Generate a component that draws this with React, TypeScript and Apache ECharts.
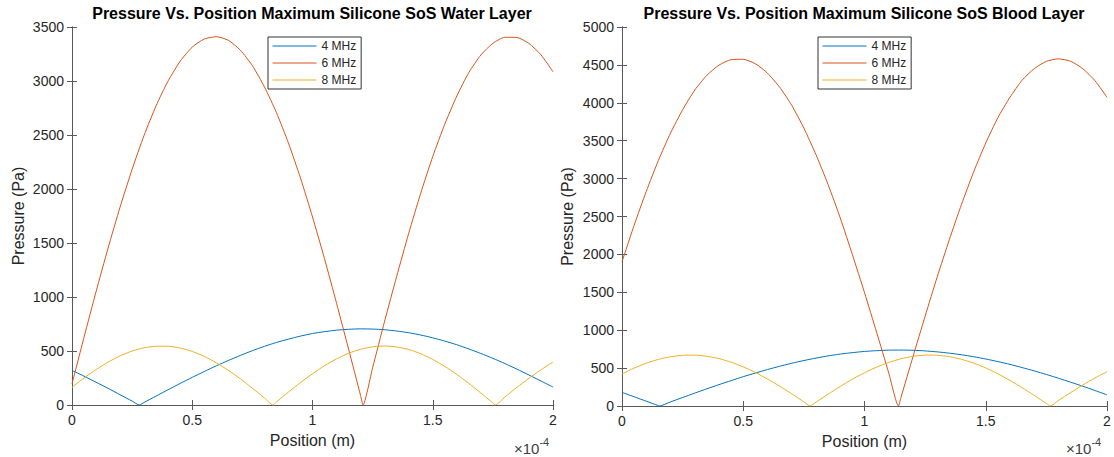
import React, { useEffect, useRef } from 'react';
import * as echarts from 'echarts';

// Position in units of 1e-4 m
const positions = [
  0, 0.05, 0.1, 0.15, 0.2, 0.25, 0.3, 0.35, 0.4, 0.45, 0.5, 0.55, 0.6, 0.65, 0.7, 0.75, 0.8, 0.85, 0.9, 0.95,
  1.0, 1.05, 1.1, 1.15, 1.2, 1.25, 1.3, 1.35, 1.4, 1.45, 1.5, 1.55, 1.6, 1.65, 1.7, 1.75, 1.8, 1.85, 1.9, 1.95, 2.0,
];

const seriesNames = ['4 MHz', '6 MHz', '8 MHz'];

// Water layer (Pa)
const water4 = [321, 267, 211, 154, 95, 36, 24, 83, 142, 200, 256, 310, 363, 412, 459, 503, 543, 579, 610, 638, 662, 679, 693, 701, 705, 703, 697, 685, 669, 648, 622, 592, 558, 519, 477, 432, 384, 332, 278, 222, 166];
const water6 = [196, 627, 1049, 1453, 1833, 2183, 2498, 2773, 3002, 3184, 3314, 3389, 3410, 3377, 3286, 3142, 2946, 2708, 2425, 2102, 1741, 1354, 942, 518, 87, 345, 777, 1191, 1590, 1961, 2301, 2600, 2861, 3078, 3241, 3349, 3405, 3403, 3348, 3242, 3086];
const water8 = [164, 250, 328, 397, 455, 500, 530, 544, 544, 527, 496, 450, 391, 321, 242, 156, 65, 28, 120, 208, 289, 364, 427, 479, 516, 539, 546, 537, 514, 475, 422, 358, 283, 200, 111, 19, 74, 163, 247, 326, 397];
const waterZeros4 = [0.28];
const waterZeros6 = [1.21];
const waterZeros8 = [0.835, 1.76];

// Blood layer (Pa)
const blood4 = [179, 122, 63, 5, 54, 112, 170, 227, 282, 335, 387, 435, 481, 524, 564, 600, 632, 661, 685, 704, 720, 730, 737, 738, 735, 727, 714, 697, 676, 650, 620, 586, 549, 507, 463, 416, 366, 314, 261, 205, 147];
const blood6 = [1903, 2384, 2831, 3239, 3600, 3908, 4168, 4363, 4497, 4569, 4574, 4515, 4391, 4207, 3966, 3666, 3315, 2920, 2481, 1998, 1496, 973, 435, 109, 652, 1185, 1705, 2196, 2660, 3088, 3470, 3804, 4074, 4298, 4451, 4547, 4580, 4548, 4450, 4293, 4072];
const blood8 = [422, 500, 564, 615, 650, 669, 671, 656, 625, 578, 516, 442, 356, 262, 161, 55, 51, 156, 258, 353, 438, 513, 575, 623, 655, 671, 669, 651, 616, 566, 502, 425, 337, 242, 140, 34, 73, 177, 277, 369, 453];
const bloodZeros4 = [0.154];
const bloodZeros6 = [1.14];
const bloodZeros8 = [0.776, 1.766];

const titles = [
  'Pressure Vs. Position Maximum Silicone SoS Water Layer',
  'Pressure Vs. Position Maximum Silicone SoS Blood Layer',
];
const xMin = 0;
const xMax = 2;
const xStep = 0.5;
const yMaxWater = 3500;
const yMaxBlood = 5000;
const yStep = 500;

const colors = ['#0072BD', '#D95319', '#EDB120'];
const FONT = "'Liberation Sans', Arial, Helvetica, sans-serif";
const AX = '#262626';
const AXLINE = '#595959';

function toPairs(xs: number[], ys: number[], zeros: number[]) {
  const pts = xs.map((x, i) => [x, ys[i]]);
  zeros.forEach((z) => pts.push([z, 0]));
  pts.sort((a, b) => a[0] - b[0]);
  return pts;
}

const plainNum = (v: number) => String(v);

function xAxes(gridIndex: number) {
  return [
    {
      gridIndex,
      type: 'value',
      position: 'bottom',
      min: xMin,
      max: xMax,
      interval: xStep,
      name: 'Position (m)',
      nameLocation: 'middle',
      nameGap: 27,
      nameTextStyle: { fontFamily: FONT, fontSize: 16, color: AX },
      axisLine: { show: true, lineStyle: { color: AXLINE, width: 1 } },
      axisTick: { show: true, inside: true, length: 5, lineStyle: { color: AXLINE } },
      axisLabel: { fontFamily: FONT, fontSize: 14, color: AX, margin: 8, formatter: plainNum },
      splitLine: { show: false },
    },
    {
      gridIndex,
      type: 'value',
      position: 'top',
      min: xMin,
      max: xMax,
      interval: xStep,
      axisLine: { show: true, lineStyle: { color: AXLINE, width: 1 } },
      axisTick: { show: true, inside: true, length: 5, lineStyle: { color: AXLINE } },
      axisLabel: { show: false },
      splitLine: { show: false },
    },
  ];
}

function yAxes(gridIndex: number, yMax: number, gap: number) {
  return [
    {
      gridIndex,
      type: 'value',
      position: 'left',
      min: 0,
      max: yMax,
      interval: yStep,
      name: 'Pressure (Pa)',
      nameLocation: 'middle',
      nameGap: gap,
      nameTextStyle: { fontFamily: FONT, fontSize: 16, color: AX },
      axisLine: { show: true, lineStyle: { color: AXLINE, width: 1 } },
      axisTick: { show: true, inside: true, length: 5, lineStyle: { color: AXLINE } },
      axisLabel: { fontFamily: FONT, fontSize: 14, color: AX, margin: 8, formatter: plainNum },
      splitLine: { show: false },
    },
    {
      gridIndex,
      type: 'value',
      position: 'right',
      min: 0,
      max: yMax,
      interval: yStep,
      axisLine: { show: true, lineStyle: { color: AXLINE, width: 1 } },
      axisTick: { show: true, inside: true, length: 5, lineStyle: { color: AXLINE } },
      axisLabel: { show: false },
      splitLine: { show: false },
    },
  ];
}

function lineSeries(name: string, data: number[][], axisBase: number, color: string) {
  return {
    type: 'line',
    name,
    data,
    xAxisIndex: axisBase,
    yAxisIndex: axisBase,
    symbol: 'none',
    smooth: 0.2,
    lineStyle: { color, width: 1 },
    itemStyle: { color },
  };
}

function legendAt(left: number, top: number) {
  return {
    data: seriesNames,
    orient: 'vertical',
    left,
    top,
    itemWidth: 44,
    itemHeight: 12,
    itemGap: 5,
    padding: [3, 5, 3, 4],
    borderColor: '#333',
    borderWidth: 1,
    backgroundColor: '#fff',
    selectedMode: false,
    itemStyle: { opacity: 0 },
    lineStyle: { width: 1 },
    textStyle: { fontFamily: FONT, fontSize: 12, color: AX },
  };
}

function exponentText(x: number, y: number) {
  return {
    type: 'text',
    x,
    y,
    style: {
      text: '{a|×10}{b|-4}',
      rich: {
        a: { fontFamily: FONT, fontSize: 15, fill: '#404040', verticalAlign: 'bottom' },
        b: { fontFamily: FONT, fontSize: 11, fill: '#404040', verticalAlign: 'top', padding: [0, 0, 9, 0] },
      },
    },
  };
}

export default function App() {
  const ref = useRef<HTMLDivElement>(null);
  useEffect(() => {
    if (!ref.current) return;
    const chart = echarts.init(ref.current, undefined, { renderer: 'svg' });
    const waterData = [
      toPairs(positions, water4, waterZeros4),
      toPairs(positions, water6, waterZeros6),
      toPairs(positions, water8, waterZeros8),
    ];
    const bloodData = [
      toPairs(positions, blood4, bloodZeros4),
      toPairs(positions, blood6, bloodZeros6),
      toPairs(positions, blood8, bloodZeros8),
    ];
    const option: any = {
      animation: false,
      backgroundColor: '#fff',
      grid: [
        { left: 72, right: 561, top: 27, bottom: 52, containLabel: false },
        { left: 622, right: 7, top: 27, bottom: 51, containLabel: false },
      ],
      xAxis: [...xAxes(0), ...xAxes(1)],
      yAxis: [...yAxes(0, yMaxWater, 46), ...yAxes(1, yMaxBlood, 47)],
      legend: [legendAt(268, 37), legendAt(818, 37)],
      series: [
        ...seriesNames.map((n, i) => lineSeries(n, waterData[i], 0, colors[i])),
        ...seriesNames.map((n, i) => lineSeries(n, bloodData[i], 2, colors[i])),
      ],
      graphic: [
        {
          type: 'text',
          x: 312,
          y: 13,
          style: { text: titles[0], fontFamily: FONT, fontSize: 16, fontWeight: 'bold', fill: '#000', align: 'center', verticalAlign: 'middle' },
        },
        {
          type: 'text',
          x: 864,
          y: 13,
          style: { text: titles[1], fontFamily: FONT, fontSize: 16, fontWeight: 'bold', fill: '#000', align: 'center', verticalAlign: 'middle' },
        },
        exponentText(514, 436),
        exponentText(1066, 436),
      ],
    };
    chart.setOption(option);
    return () => chart.dispose();
  }, []);
  return (
    <div
      ref={ref}
      style={{ position: 'fixed', left: 0, top: 0, width: 1114, height: 457, background: '#fff' }}
    />
  );
}
